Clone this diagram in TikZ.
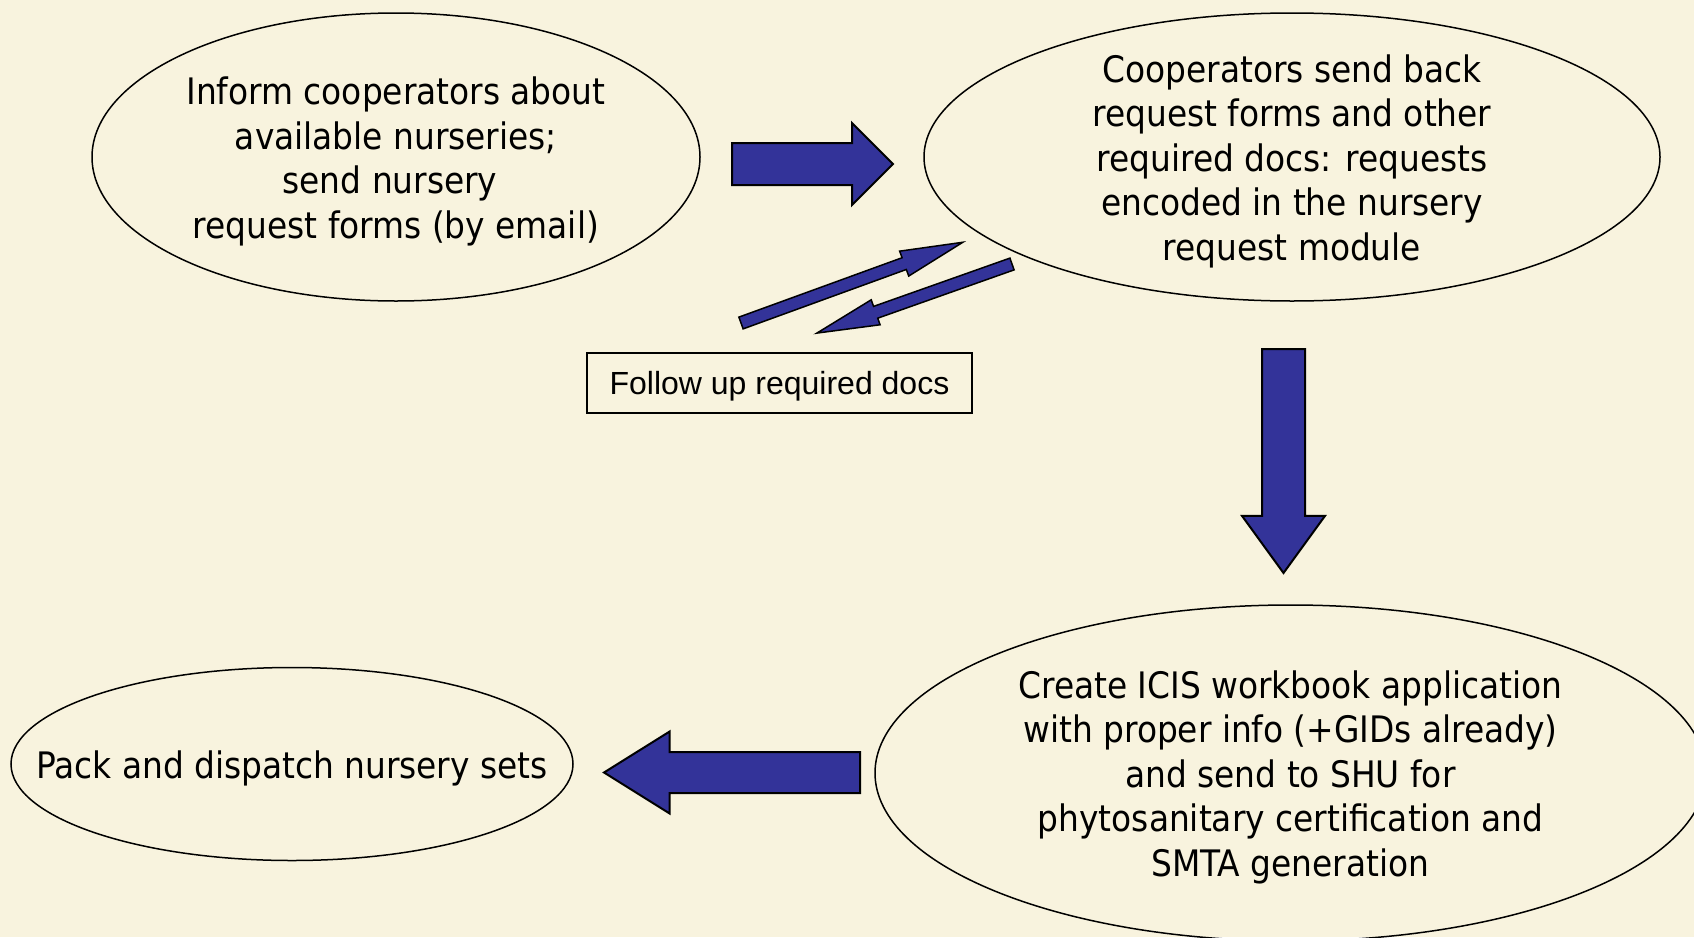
\documentclass[tikz,border=0pt]{standalone}
\usepackage{fontspec}
\setmainfont{DejaVu Sans Condensed}
\newfontfamily\notefont{Liberation Sans}
\usetikzlibrary{shapes.geometric,shapes.arrows}
\definecolor{ricebg}{RGB}{248,243,222}
\definecolor{arrowblue}{RGB}{51,51,153}

\begin{document}
\begin{tikzpicture}
[x=1pt,y=-1pt,%
  stage/.style={shape=ellipse,draw,line width=1.5pt,inner sep=0pt},%
  stagetext/.style={inner sep=0pt,align=center,yshift=-4.3pt,%
    font=\fontsize{36.5}{44.6}\selectfont},%
  note/.style={shape=rectangle,draw,line width=1.5pt,inner sep=0pt,text height=29pt,%
    font=\notefont\fontsize{32}{38}\selectfont},%
  bigarrow/.style={single arrow,draw,fill=arrowblue,line width=2pt,anchor=tail,%
    inner xsep=0pt,inner ysep=20pt,outer sep=0pt,single arrow head extend=20pt},%
  thinarrow/.style={bigarrow,line width=1.5pt,inner ysep=5.5pt,%
    single arrow head extend=7pt,single arrow tip angle=24}]
\fill[ricebg] (0,0) rectangle (1694,937);
\useasboundingbox (0,0) rectangle (1694,937);
\clip (0,0) rectangle (1694,937);
\node[stage,minimum width=608pt,minimum height=288pt] (inform) at (396,157) {};
\node[stagetext] (informtext) at (inform)
  {Inform cooperators about\\available nurseries;\\send nursery\rule{12pt}{0pt}\\request forms (by email)};
\node[stage,minimum width=736pt,minimum height=288pt] (sendback) at (1292,157) {};
\node[stagetext] (sendbacktext) at (sendback)
  {Cooperators send back\\request forms and other\\required docs: requests\\encoded in the nursery\\request module};
\node[stage,minimum width=831pt,minimum height=336pt] (workbook) at (1290.5,773) {};
\node[stagetext] (workbooktext) at (workbook)
  {Create ICIS workbook application\\with proper info (+GIDs already)\\and send to SHU for\\phytosanitary certification and\\SMTA generation};
\node[stage,minimum width=562pt,minimum height=193pt] (dispatch) at (292,764) {};
\node[stagetext] (dispatchtext) at (dispatch) {Pack and dispatch nursery sets};
\node[note,minimum width=385pt,minimum height=60pt] (followup) at (779.5,383)
  {Follow up required docs};
\node[bigarrow,minimum height=161pt,single arrow tip angle=90] (arrR) at (732,164) {};
\node[bigarrow,minimum height=224pt,rotate=-90,inner ysep=20.5pt,single arrow tip angle=72] (arrD) at (1283.5,349) {};
\node[bigarrow,minimum height=256pt,rotate=180,inner ysep=19.5pt,single arrow head extend=20.5pt,single arrow tip angle=64] (arrL) at (860,772.5) {};
\node[thinarrow,minimum height=236pt,rotate=20] (arrUp) at (741,323) {};
\node[thinarrow,minimum height=207pt,rotate=199.5] (arrBack) at (1012,264) {};
\end{tikzpicture}
\end{document}
